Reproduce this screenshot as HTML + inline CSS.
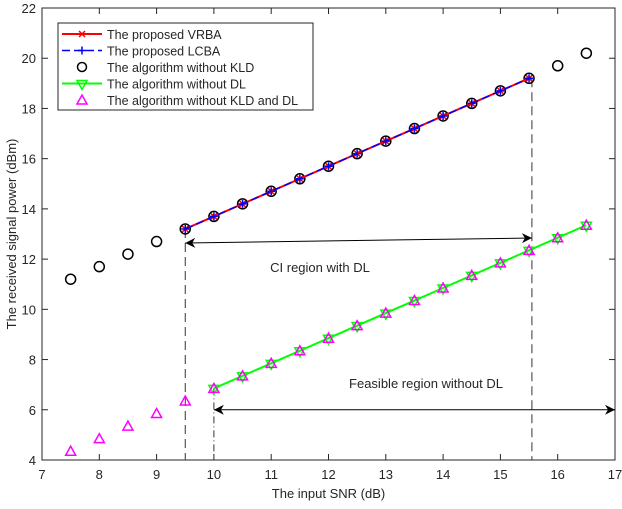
<!DOCTYPE html>
<html><head><meta charset="utf-8"><style>
body{margin:0;background:#fff}
svg text{font-family:"Liberation Sans",Arial,sans-serif;fill:#262626}
</style></head><body>
<svg id="c" width="622" height="504" xmlns="http://www.w3.org/2000/svg"></svg>
<script>
const xTicks=[7,8,9,10,11,12,13,14,15,16,17];
const yTicks=[4,6,8,10,12,14,16,18,20,22];
const snrAll=[7.5,8,8.5,9,9.5,10,10.5,11,11.5,12,12.5,13,13.5,14,14.5,15,15.5,16,16.5];
const noKld=[11.2,11.7,12.2,12.7,13.2,13.7,14.2,14.7,15.2,15.7,16.2,16.7,17.2,17.7,18.2,18.7,19.2,19.7,20.2];
const snrProp=[9.5,10,10.5,11,11.5,12,12.5,13,13.5,14,14.5,15,15.5];
const vrba=[13.2,13.7,14.2,14.7,15.2,15.7,16.2,16.7,17.2,17.7,18.2,18.7,19.2];
const lcba=[13.2,13.7,14.2,14.7,15.2,15.7,16.2,16.7,17.2,17.7,18.2,18.7,19.2];
const snrNoDl=[10,10.5,11,11.5,12,12.5,13,13.5,14,14.5,15,15.5,16,16.5];
const noDl=[6.85,7.35,7.85,8.35,8.85,9.35,9.85,10.35,10.85,11.35,11.85,12.35,12.85,13.35];
const noKldDl=[4.35,4.85,5.35,5.85,6.35,6.85,7.35,7.85,8.35,8.85,9.35,9.85,10.35,10.85,11.35,11.85,12.35,12.85,13.35];
const L=42,R=615,T=8,B=460;
const X=v=>L+(v-7)/10*(R-L), Y=v=>B-(v-4)/18*(B-T);
const svg=document.getElementById('c');const NS='http://www.w3.org/2000/svg';
function el(t,a,name,txt){const e=document.createElementNS(NS,t);for(const k in a)e.setAttribute(k,a[k]);


if(txt!==undefined)e.textContent=txt;svg.appendChild(e);return e;}
el('defs',{},'defs').innerHTML='<marker id="ah" viewBox="0 0 10 10" refX="10" refY="5" markerWidth="10" markerHeight="10" orient="auto-start-reverse" markerUnits="userSpaceOnUse"><path d="M0,0 L10,5 L0,10 L3,5 z" fill="#000"/></marker>';
el('rect',{x:L,y:T,width:R-L,height:B-T,fill:'#fff',stroke:'#262626','stroke-width':1},'plot-area');
xTicks.forEach(v=>{el('line',{x1:X(v),x2:X(v),y1:B,y2:B-6,stroke:'#262626'},'x-tick');el('line',{x1:X(v),x2:X(v),y1:T,y2:T+6,stroke:'#262626'},'x-tick-top');
el('text',{x:X(v),y:B+19,'font-size':13,'text-anchor':'middle'},'x-tick-label',v);});
yTicks.forEach(v=>{el('line',{x1:L,x2:L+6,y1:Y(v),y2:Y(v),stroke:'#262626'},'y-tick');el('line',{x1:R,x2:R-6,y1:Y(v),y2:Y(v),stroke:'#262626'},'y-tick-right');
el('text',{x:L-6,y:Y(v)+5,'font-size':13,'text-anchor':'end'},'y-tick-label',v);});
el('text',{x:(L+R)/2,y:498,'font-size':13,'text-anchor':'middle'},'x-axis-title','The input SNR (dB)');
el('text',{x:16,y:(T+B)/2,'font-size':13,'text-anchor':'middle',transform:`rotate(-90 16 ${(T+B)/2})`},'y-axis-title','The received signal power (dBm)');
// annotation lines
el('line',{x1:X(9.5),x2:X(9.5),y1:Y(13.2),y2:B,stroke:'#333','stroke-dasharray':'9,5'},'guide-9-5');
el('line',{x1:X(15.55),x2:X(15.55),y1:Y(19.2),y2:B,stroke:'#333','stroke-dasharray':'9,5'},'guide-15-5');
el('line',{x1:X(10),x2:X(10),y1:Y(6.85),y2:B,stroke:'#333','stroke-dasharray':'7,3,1,3'},'guide-10');
el('line',{x1:X(9.5),y1:243,x2:X(15.55),y2:238,stroke:'#000','marker-start':'url(#ah)','marker-end':'url(#ah)'},'ci-arrow');
el('line',{x1:X(10),y1:Y(6),x2:R,y2:Y(6),stroke:'#000','marker-start':'url(#ah)','marker-end':'url(#ah)'},'feasible-arrow');
el('text',{x:320,y:272,'font-size':13,'text-anchor':'middle'},'ci-label','CI region with DL');
el('text',{x:426,y:388,'font-size':13,'text-anchor':'middle'},'feasible-label','Feasible region without DL');
// series
const pts=(xs,ys)=>xs.map((x,i)=>X(x)+','+Y(ys[i])).join(' ');
el('polyline',{points:pts(snrNoDl,noDl),fill:'none',stroke:'#00ff00','stroke-width':2},'line-without-dl');
snrNoDl.forEach((x,i)=>{const cx=X(x),cy=Y(noDl[i]);el('path',{d:`M${cx-5},${cy-3}L${cx+5},${cy-3}L${cx},${cy+6}Z`,fill:'none',stroke:'#00ff00','stroke-width':1.5},'marker-without-dl');});
snrAll.forEach((x,i)=>{const cx=X(x),cy=Y(noKldDl[i]);el('path',{d:`M${cx-5},${cy+4}L${cx+5},${cy+4}L${cx},${cy-5}Z`,fill:'none',stroke:'#ff00ff','stroke-width':1.5},'marker-without-kld-dl');});
snrAll.forEach((x,i)=>el('circle',{cx:X(x),cy:Y(noKld[i]),r:5,fill:'none',stroke:'#000','stroke-width':1.5},'marker-without-kld'));
el('polyline',{points:pts(snrProp,vrba),fill:'none',stroke:'#ff0000','stroke-width':2},'line-vrba');
snrProp.forEach((x,i)=>{const cx=X(x),cy=Y(vrba[i]);el('path',{d:`M${cx-3},${cy-3}L${cx+3},${cy+3}M${cx-3},${cy+3}L${cx+3},${cy-3}`,stroke:'#ff0000','stroke-width':1.5},'marker-vrba');});
el('polyline',{points:pts(snrProp,lcba),fill:'none',stroke:'#0000ff','stroke-width':1.5,'stroke-dasharray':'8,4'},'line-lcba');
snrProp.forEach((x,i)=>{const cx=X(x),cy=Y(lcba[i]);el('path',{d:`M${cx-4},${cy}L${cx+4},${cy}M${cx},${cy-4}L${cx},${cy+4}`,stroke:'#0000ff','stroke-width':1.5},'marker-lcba');});
// legend
el('rect',{x:58,y:23,width:255,height:87,fill:'#fff',stroke:'#262626'},'legend-box');
const lg=[['The proposed VRBA','vrba'],['The proposed LCBA','lcba'],['The algorithm without KLD','nokld'],['The algorithm without DL','nodl'],['The algorithm without KLD and DL','nokldl']];
lg.forEach((d,i)=>{const y=34+i*16.5,cx=82;
el('text',{x:107,y:y+5,'font-size':12.5},'legend-entry',d[0]);
if(d[1]=='vrba'){el('line',{x1:62,x2:102,y1:y,y2:y,stroke:'#f00','stroke-width':2},'legend-line');el('path',{d:`M${cx-3},${y-3}L${cx+3},${y+3}M${cx-3},${y+3}L${cx+3},${y-3}`,stroke:'#f00','stroke-width':1.5},'legend-marker');}
if(d[1]=='lcba'){el('line',{x1:62,x2:102,y1:y,y2:y,stroke:'#00f','stroke-width':1.5,'stroke-dasharray':'8,4'},'legend-line');el('path',{d:`M${cx-4},${y}L${cx+4},${y}M${cx},${y-4}L${cx},${y+4}`,stroke:'#00f','stroke-width':1.5},'legend-marker');}
if(d[1]=='nokld')el('circle',{cx:cx,cy:y,r:4.5,fill:'none',stroke:'#000','stroke-width':1.5},'legend-marker');
if(d[1]=='nodl'){el('line',{x1:62,x2:102,y1:y,y2:y,stroke:'#0f0','stroke-width':2},'legend-line');el('path',{d:`M${cx-5},${y-3}L${cx+5},${y-3}L${cx},${y+6}Z`,fill:'none',stroke:'#0f0','stroke-width':1.5},'legend-marker');}
if(d[1]=='nokldl')el('path',{d:`M${cx-5},${y+4}L${cx+5},${y+4}L${cx},${y-5}Z`,fill:'none',stroke:'#f0f','stroke-width':1.5},'legend-marker');
});
</script>
</body></html>
